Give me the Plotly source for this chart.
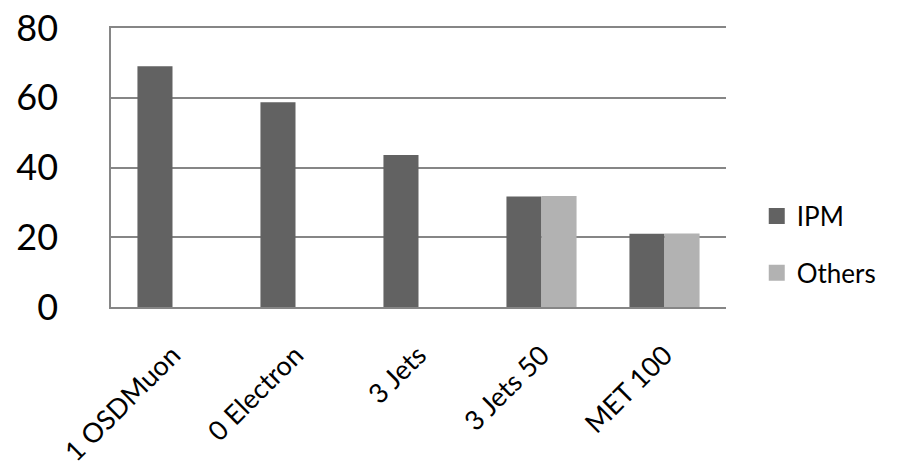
import plotly.graph_objects as go

categories = ["1 OSDMuon", "0 Electron", "3 Jets", "3 Jets 50", "MET 100"]
ipm_values = [69, 58.7, 43.6, 31.7, 21]
others_values = [None, None, None, 31.8, 21.1]
y_ticks = [0, 20, 40, 60, 80]

FONT = "Lato"
GRID = "#868686"
IPM_COLOR = "#626262"
OTHERS_COLOR = "#b2b2b2"

fig = go.Figure()
fig.add_trace(go.Bar(name="IPM", x=categories, y=ipm_values,
                     marker=dict(color=IPM_COLOR, line=dict(width=0)),
                     legendgroup="a", showlegend=False))
fig.add_trace(go.Bar(name="Others", x=categories, y=others_values,
                     marker=dict(color=OTHERS_COLOR, line=dict(width=0)),
                     legendgroup="b", showlegend=False))
# legend entries with larger square swatches
fig.add_trace(go.Scatter(name="IPM", x=[None], y=[None], mode="markers",
                         marker=dict(symbol="square", size=16, color=IPM_COLOR),
                         legendgroup="a", hoverinfo="skip"))
fig.add_trace(go.Scatter(name="Others", x=[None], y=[None], mode="markers",
                         marker=dict(symbol="square", size=16, color=OTHERS_COLOR),
                         legendgroup="b", hoverinfo="skip"))

fig.update_layout(
    width=899, height=472,
    margin=dict(l=111, r=173, t=28, b=165, autoexpand=False),
    paper_bgcolor="white", plot_bgcolor="white",
    barmode="group", bargap=0.43, bargroupgap=0,
    font=dict(family=FONT, color="black"),
    legend=dict(x=1.05, xanchor="left", y=0.224, yanchor="middle",
                font=dict(size=26, family=FONT, color="black"),
                tracegroupgap=20, bgcolor="rgba(0,0,0,0)",
                itemsizing="trace"),
    xaxis=dict(showline=True, linecolor=GRID, linewidth=1.5, automargin=False,
               mirror=True,
               tickangle=-45, tickfont=dict(size=27, family=FONT),
               ticks="", ticklabelstandoff=20, showgrid=False),
    yaxis=dict(range=[0, 80], tickvals=y_ticks, showgrid=True, automargin=False,
               gridcolor=GRID, gridwidth=1.5, zeroline=False,
               showline=True, linecolor=GRID, linewidth=1.5,
               ticks="", ticklabelstandoff=44, ticklabeloverflow="allow",
               tickfont=dict(size=36, family=FONT)),
)

fig.write_html("out.html", config={"displayModeBar": False},
               post_script="document.body.style.margin='0';")
